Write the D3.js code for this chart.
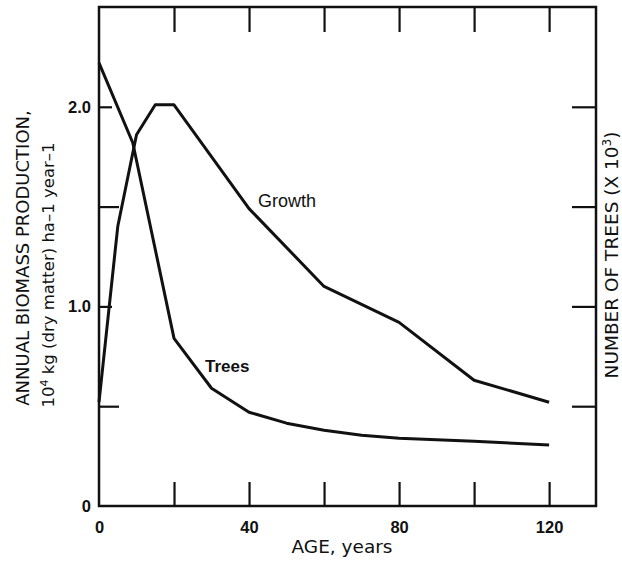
<!DOCTYPE html>
<html>
<head>
<meta charset="utf-8">
<script src="https://cdn.jsdelivr.net/npm/d3@7"></script>
<style>
  body { margin: 0; background: #fff; }
  svg { display: block; font-family: "Liberation Sans", Arial, sans-serif; }
</style>
</head>
<body>
<div id="chart"></div>
<script>
// age in years
const growthAge = [0, 5, 10, 15, 20, 40, 60, 80, 100, 120];
// annual biomass production, 10^4 kg ha-1 year-1
const growthValue = [0.52, 1.4, 1.86, 2.01, 2.01, 1.49, 1.1, 0.92, 0.63, 0.52];
const treesAge = [0, 9, 20, 30, 40, 50, 60, 70, 80, 100, 120];
// number of trees (right axis, x 10^3)
const treesValue = [2.22, 1.82, 0.84, 0.59, 0.47, 0.415, 0.38, 0.355, 0.34, 0.325, 0.305];

const xTicks = [0, 20, 40, 60, 80, 100, 120];
const xLabels = [0, 40, 80, 120];
const yTicks = [0, 0.5, 1.0, 1.5, 2.0];
const yLabels = [0, 1.0, 2.0];
const rightTicks = [0.5, 1.0, 1.5, 2.0];

const width = 622, height = 565;
const plotLeft = 99, plotRight = 596, plotTop = 7, plotBottom = 506;

const svg = d3.select("#chart").append("svg")
    .attr("width", width)
    .attr("height", height);

const x = d3.scaleLinear().domain([0, 132.5]).range([plotLeft, plotRight]);
const y = d3.scaleLinear().domain([0, 2.5]).range([plotBottom, plotTop]);
const yRight = d3.scaleLinear().domain([0, 2.5]).range([plotBottom, plotTop]);

const ink = "#111";
const titleFont = "'DejaVu Sans', Verdana, sans-serif";

// frame
svg.append("rect")
    .attr("x", plotLeft).attr("y", plotTop)
    .attr("width", plotRight - plotLeft).attr("height", plotBottom - plotTop)
    .attr("fill", "none").attr("stroke", ink).attr("stroke-width", 2.5);

// bottom axis: ticks point inward, labels every 40
const xAxis = svg.append("g")
    .attr("transform", `translate(0,${plotBottom})`)
    .call(d3.axisBottom(x).tickValues(xTicks).tickSize(-24).tickSizeOuter(0).tickPadding(15)
        .tickFormat(d => xLabels.includes(d) ? String(d) : ""));
xAxis.selectAll(".tick line").filter(d => d === 0).remove();

// top axis, ticks only
svg.append("g")
    .attr("transform", `translate(0,${plotTop})`)
    .call(d3.axisTop(x).tickValues(xTicks.filter(d => d > 0)).tickSize(-25).tickSizeOuter(0).tickFormat(""));

// left axis
const yAxis = svg.append("g")
    .attr("transform", `translate(${plotLeft},0)`)
    .call(d3.axisLeft(y).tickValues(yTicks).tickSize(-20).tickSizeOuter(0).tickPadding(8)
        .tickFormat(d => d === 0 ? "0" : (yLabels.includes(d) ? d.toFixed(1) : "")));
yAxis.selectAll(".tick line").filter(d => yLabels.includes(d)).attr("x2", 13);
yAxis.selectAll(".tick line").filter(d => d === 0).remove();

// right axis, ticks only
svg.append("g")
    .attr("transform", `translate(${plotRight},0)`)
    .call(d3.axisRight(yRight).tickValues(rightTicks).tickSize(-24).tickSizeOuter(0).tickFormat(""));

svg.selectAll(".domain").remove();
svg.selectAll(".tick line").attr("stroke", ink).attr("stroke-width", 2.2);
svg.selectAll(".tick text")
    .attr("fill", ink)
    .attr("font-size", 16.5)
    .attr("font-weight", "bold")
    .attr("font-family", "'Liberation Sans', Arial, sans-serif");

// curves
const growthLine = d3.line().x((d, i) => x(growthAge[i])).y(d => y(d));
const treesLine = d3.line().x((d, i) => x(treesAge[i])).y(d => yRight(d));

svg.append("path").datum(growthValue)
    .attr("d", growthLine)
    .attr("fill", "none").attr("stroke", ink).attr("stroke-width", 3)
    .attr("stroke-linejoin", "round");
svg.append("path").datum(treesValue)
    .attr("d", treesLine)
    .attr("fill", "none").attr("stroke", ink).attr("stroke-width", 3)
    .attr("stroke-linejoin", "round");

// curve labels
svg.append("text").attr("x", 258).attr("y", 207)
    .attr("font-size", 18).attr("fill", ink).text("Growth");
svg.append("text").attr("x", 205).attr("y", 372)
    .attr("font-size", 17).attr("font-weight", "bold").attr("fill", ink).text("Trees");

// axis titles
svg.append("text")
    .attr("x", 342).attr("y", 553)
    .attr("text-anchor", "middle").attr("font-size", 18.5).attr("fill", ink)
    .attr("font-family", titleFont)
    .text("AGE, years");

svg.append("text")
    .attr("transform", "translate(29,258) rotate(-90)")
    .attr("text-anchor", "middle").attr("font-size", 18).attr("fill", ink)
    .attr("font-family", titleFont)
    .text("ANNUAL BIOMASS PRODUCTION,");

const lt2 = svg.append("text")
    .attr("transform", "translate(54,275) rotate(-90)")
    .attr("text-anchor", "middle").attr("font-size", 16.5).attr("fill", ink)
    .attr("font-family", titleFont);
lt2.append("tspan").text("10");
lt2.append("tspan").attr("font-size", 11).attr("dy", -6).text("4");
lt2.append("tspan").attr("dy", 6).text(" kg  (dry matter) ha\u20131 year\u20131");

const rt = svg.append("text")
    .attr("transform", "translate(618,255) rotate(-90)")
    .attr("text-anchor", "middle").attr("font-size", 18.5).attr("fill", ink)
    .attr("font-family", titleFont);
rt.append("tspan").text("NUMBER OF TREES (X 10");
rt.append("tspan").attr("font-size", 12).attr("dy", -7).text("3");
rt.append("tspan").attr("dy", 7).text(")");
</script>
</body>
</html>
